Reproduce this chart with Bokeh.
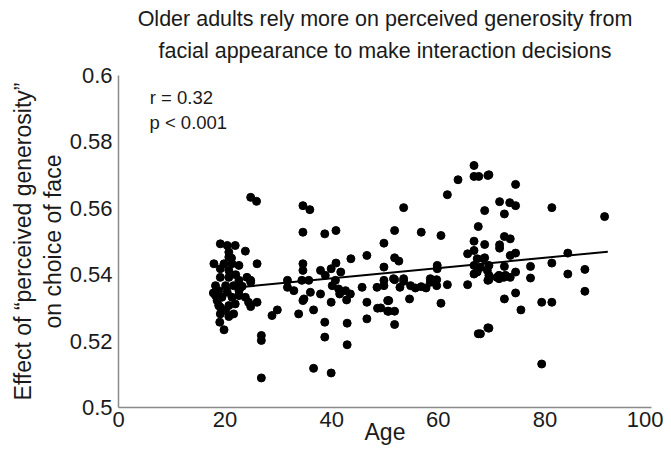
from bokeh.plotting import figure
from bokeh.models import Range1d, FixedTicker, Label, ColumnDataSource, Title
from bokeh.embed import file_html
from bokeh.resources import INLINE

# ---------------- data ----------------
ages = [
    24.8, 25.9, 19.1, 20.4, 21.9, 23.8, 20.7, 20.7, 17.9, 19.8, 21.3, 22.6, 26.0,
    19.1, 20.7, 19.1, 20.7, 22.6, 24.8, 24.1, 24.8, 18.2, 20.1, 21.6, 22.9,
    18.8, 20.4, 22.6, 18.2, 19.4, 21.3, 23.8, 22.6, 18.8, 20.7, 21.9, 24.4, 26.0,
    19.1, 24.8, 20.1, 19.1, 21.6, 20.7, 19.0, 19.8, 17.8, 18.5, 22.0, 21.2, 23.2,
    26.8, 26.8, 26.8, 28.8, 29.8,
    31.7, 31.7, 32.9, 34.4, 35.7, 36.0, 37.9, 34.6, 35.9, 34.6, 38.7, 40.8,
    49.8, 46.6, 43.6, 34.6, 34.6, 37.9, 38.8, 39.9, 40.8, 41.7, 49.8,
    40.1, 40.7, 41.3, 42.6, 43.5, 45.7, 48.5, 49.8, 34.8,
    34.6, 39.9, 42.8, 41.5, 46.6, 48.6, 50.5, 50.5,
    33.8, 36.6, 38.7, 42.9, 46.6, 38.7, 42.9, 36.6, 39.9, 49.8,
    66.7, 66.7, 67.6, 69.3, 63.7, 61.7, 53.5, 68.7, 67.5, 51.8, 56.8, 60.5, 66.7,
    68.7, 66.7, 51.8, 52.6, 65.5, 67.3, 68.5, 59.8, 59.8, 66.7, 67.9, 67.3, 69.2,
    51.6, 53.5, 58.5, 66.7, 51.8, 52.8, 53.5, 54.8, 55.7, 56.8, 57.7, 58.5, 59.7,
    59.7, 61.7, 65.5, 69.3, 50.7, 54.6, 60.5, 49.2, 50.7, 51.8, 51.8, 67.5, 69.3,
    69.5, 74.5, 71.5, 73.4, 74.5, 81.3, 72.4, 72.4, 73.5, 71.5, 71.5, 74.5, 73.5,
    84.3, 81.3, 77.3, 72.4, 77.3, 84.3, 87.5, 69.5, 69.5, 71.0, 72.3, 73.5, 74.5,
    71.4, 72.6, 69.5, 71.4, 87.5, 72.4, 74.5, 75.5, 79.4, 81.3, 69.5, 67.9, 79.4,
    91.2, 68.7,
]
effect = [
    0.5633, 0.5621, 0.5493, 0.5488, 0.5488, 0.5471, 0.5468, 0.5453, 0.5433, 0.5433, 0.5433, 0.5428, 0.5433,
    0.5418, 0.5413, 0.5392, 0.5392, 0.5383, 0.5383, 0.5392, 0.5377, 0.5367, 0.5367, 0.5367, 0.5362,
    0.5352, 0.5347, 0.5352, 0.5337, 0.5332, 0.5332, 0.5332, 0.5337, 0.5307, 0.5307, 0.5312, 0.5317, 0.5317,
    0.5302, 0.5304, 0.5292, 0.5282, 0.5282, 0.5274, 0.5257, 0.5234, 0.5345, 0.5322, 0.5400, 0.5450, 0.5365,
    0.5217, 0.5202, 0.5089, 0.5277, 0.5294,
    0.5383, 0.5362, 0.5352, 0.5383, 0.5383, 0.5347, 0.5342, 0.5608, 0.5596, 0.5528, 0.5523, 0.5533,
    0.5495, 0.5458, 0.5448, 0.5433, 0.5413, 0.5413, 0.5398, 0.5418, 0.5435, 0.5408, 0.5423,
    0.5367, 0.5383, 0.5357, 0.5352, 0.5342, 0.5362, 0.5362, 0.5383, 0.5327,
    0.5322, 0.5317, 0.5324, 0.5342, 0.5317, 0.5299, 0.5322, 0.5290,
    0.5282, 0.5294, 0.5257, 0.5254, 0.5267, 0.5212, 0.5189, 0.5118, 0.5104, 0.5367,
    0.5729, 0.5696, 0.5696, 0.5699, 0.5686, 0.5641, 0.5602, 0.5593, 0.5545, 0.5533, 0.5528, 0.5518, 0.5501,
    0.5491, 0.5473, 0.5451, 0.5441, 0.5463, 0.5448, 0.5448, 0.5428, 0.5418, 0.5428, 0.5422, 0.5408, 0.5413,
    0.5388, 0.5388, 0.5388, 0.5402, 0.5385, 0.5362, 0.5380, 0.5367, 0.5360, 0.5364, 0.5360, 0.5377, 0.5385,
    0.5367, 0.5370, 0.5370, 0.5383, 0.5322, 0.5327, 0.5314, 0.5300, 0.5290, 0.5290, 0.5250, 0.5222, 0.5240,
    0.5701, 0.5672, 0.5620, 0.5617, 0.5608, 0.5602, 0.5583, 0.5515, 0.5508, 0.5490, 0.5480, 0.5465, 0.5458,
    0.5465, 0.5435, 0.5425, 0.5425, 0.5390, 0.5402, 0.5416, 0.5428, 0.5398, 0.5392, 0.5392, 0.5392, 0.5408,
    0.5398, 0.5398, 0.5385, 0.5388, 0.5350, 0.5327, 0.5345, 0.5294, 0.5317, 0.5317, 0.5239, 0.5222, 0.5131,
    0.5575, 0.5451,
]

# regression line
fit_ages = [17.6, 91.8]
fit_intercept = 0.5327
fit_slope = 0.000155
fit_effect = [fit_intercept + fit_slope * a for a in fit_ages]

x_ticks = [0, 20, 40, 60, 80, 100]
y_ticks = [0.5, 0.52, 0.54, 0.56, 0.58, 0.6]
y_tick_labels = ["0.5", "0.52", "0.54", "0.56", "0.58", "0.6"]

title_lines = ["Older adults rely more on perceived generosity from",
               "facial appearance to make interaction decisions"]
ylabel_lines = ["Effect of \u201cperceived generosity\u201d", "on choice of face"]
stats_lines = ["r = 0.32", "p < 0.001"]

FONT = "Liberation Sans"
TXT = "#1a1a1a"

p = figure(width=663, height=450, output_backend="svg", toolbar_location=None,
           x_range=Range1d(0, 100), y_range=Range1d(0.5, 0.6),
           min_border_left=118, min_border_right=12, min_border_top=75,
           min_border_bottom=43)
p.outline_line_color = None
p.xgrid.visible = False
p.ygrid.visible = False

src = ColumnDataSource(dict(age=ages, effect=effect))
p.scatter("age", "effect", source=src, size=8, color="black")
p.line(fit_ages, fit_effect, line_color="black", line_width=2)

for ax in (p.xaxis[0], p.yaxis[0]):
    ax.axis_line_color = "#8a8a8a"
    ax.axis_line_width = 1.5
    ax.major_tick_line_color = None
    ax.minor_tick_line_color = None
    ax.major_tick_in = 0
    ax.major_tick_out = 0
    ax.minor_tick_in = 0
    ax.minor_tick_out = 0
    ax.major_label_text_font = FONT
    ax.major_label_text_font_size = "22px"
    ax.major_label_text_color = TXT

p.xaxis.ticker = FixedTicker(ticks=x_ticks)
p.yaxis.ticker = FixedTicker(ticks=y_ticks)
p.yaxis.major_label_overrides = {t: l for t, l in zip(y_ticks, y_tick_labels)}
p.xaxis.major_label_standoff = 4
p.yaxis.major_label_standoff = 6
p.xaxis.axis_label = "Age"
p.xaxis.axis_label_text_font = FONT
p.xaxis.axis_label_text_font_size = "23px"
p.xaxis.axis_label_text_font_style = "normal"
p.xaxis.axis_label_text_color = TXT
p.xaxis.axis_label_standoff = -11

# title: two centred lines (line nearest the frame added first)
p.add_layout(Title(text=title_lines[1], align="center", text_font=FONT,
                   text_font_size="21.5px", text_font_style="normal",
                   text_color=TXT, standoff=26), "above")
p.add_layout(Title(text=title_lines[0], align="center", text_font=FONT,
                   text_font_size="21.5px", text_font_style="normal",
                   text_color=TXT, standoff=-15), "above")

# y axis label: two rotated lines (line nearest the axis added first)
p.add_layout(Title(text=ylabel_lines[1], align="center", text_font=FONT,
                   text_font_size="23px", text_font_style="normal",
                   text_color=TXT, standoff=1, offset=22), "left")
p.add_layout(Title(text=ylabel_lines[0], align="center", text_font=FONT,
                   text_font_size="23px", text_font_style="normal",
                   text_color=TXT, standoff=4, offset=22), "left")

# statistics annotation
for txt, xx, yy in zip(stats_lines, [11.8, 13.1], [0.5934, 0.5858]):
    p.add_layout(Label(x=xx, y=yy, text=txt, text_align="center", text_baseline="middle",
                       text_font=FONT, text_font_size="18.5px", text_color=TXT))

open("out.html", "w").write(file_html(p, INLINE))
